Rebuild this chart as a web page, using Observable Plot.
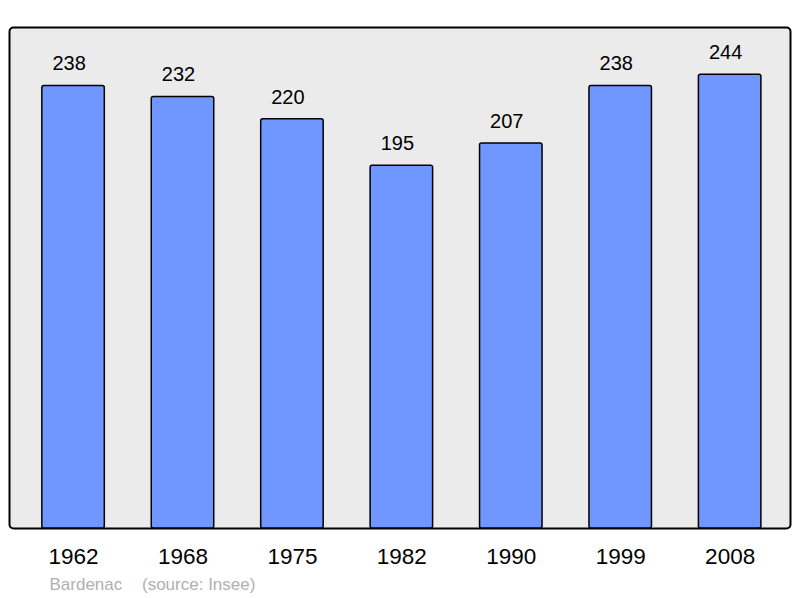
<!DOCTYPE html>
<html>
<head>
<meta charset="utf-8">
<script src="https://cdn.jsdelivr.net/npm/d3@7"></script>
<script src="https://cdn.jsdelivr.net/npm/@observablehq/plot@0.6"></script>
<style>
  html, body { margin: 0; padding: 0; background: #ffffff; }
</style>
</head>
<body>
<div id="chart"></div>
<script>
const years = ["1962", "1968", "1975", "1982", "1990", "1999", "2008"];
const population = [238, 232, 220, 195, 207, 238, 244];
const commune = "Bardenac";
const source = "(source: Insee)";

const data = years.map((year, i) => ({year, value: population[i]}));

const chart = Plot.plot({
  width: 800,
  height: 598,
  marginLeft: 9,
  marginRight: 10,
  marginTop: 27,
  marginBottom: 70,
  style: {fontFamily: "'Liberation Sans', Arial, sans-serif", background: "#ffffff", color: "#000"},
  x: {domain: years, round: false, paddingInner: 0.429, paddingOuter: 0.283, align: 0.53, label: null},
  y: {domain: [0, 269.4], axis: null},
  marks: [
    Plot.frame({fill: "#ebebeb", stroke: "#000", strokeWidth: 2, rx: 4}),
    Plot.barY(data, {x: "year", y: "value", fill: "#7097ff", stroke: "#000", strokeWidth: 1.5, rx: 2}),
    Plot.text(data, {x: "year", y: "value", text: d => String(d.value), dx: -4.5, dy: -22, fontSize: 20, fill: "#000"}),
    Plot.axisX({tickSize: 0, tickPadding: 20, fontSize: 22.5, label: null}),
    Plot.text([commune], {frameAnchor: "bottom-left", text: d => d, dx: 40, dy: 61, fontSize: 17, fill: "#b0b0b0", textAnchor: "start"}),
    Plot.text([source], {frameAnchor: "bottom-left", text: d => d, dx: 132.5, dy: 61, fontSize: 17, fill: "#b0b0b0", textAnchor: "start"})
  ]
});
document.getElementById("chart").appendChild(chart);
</script>
</body>
</html>
